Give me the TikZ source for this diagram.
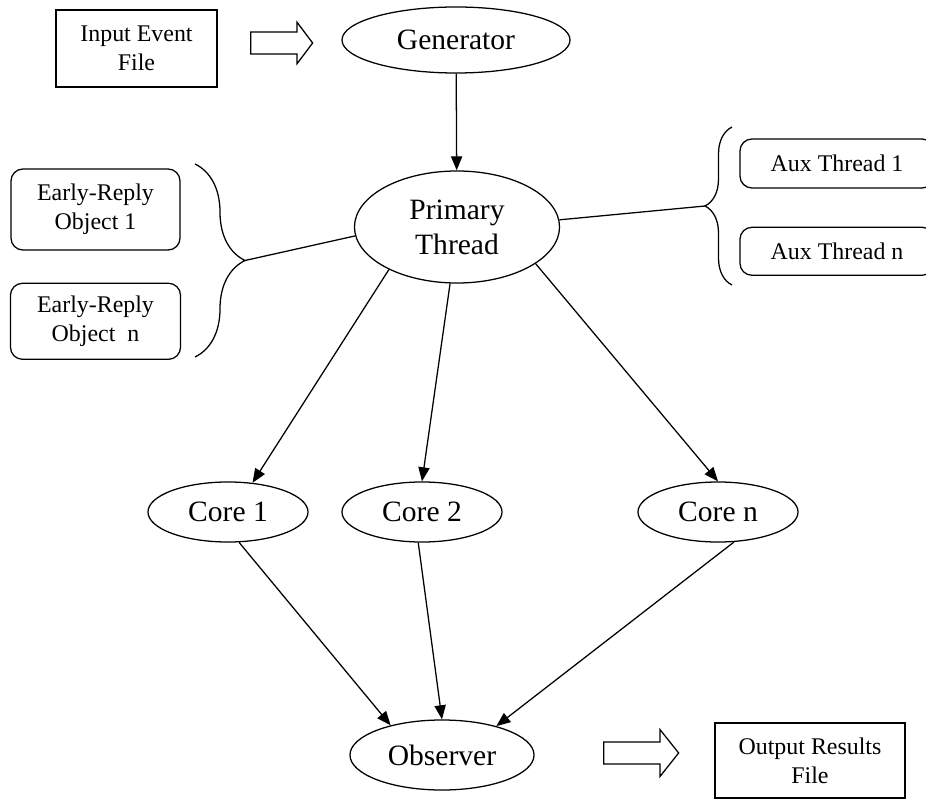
\documentclass[tikz,border=0pt]{standalone}
\usepackage{fontspec}
\setmainfont{Liberation Serif}
\usetikzlibrary{shapes.geometric, shapes.arrows, arrows.meta, positioning, decorations.pathreplacing}
\tikzset{
    filebox/.style={rectangle, draw, line width=0.9pt, align=center, inner sep=0pt, font=\fontsize{17}{20.5}\selectfont},
    objbox/.style={rectangle, draw, rounded corners=0.3cm, line width=0.9pt, align=center, inner sep=0pt, font=\fontsize{17}{20.5}\selectfont},
    proc/.style={ellipse, draw, line width=0.9pt, inner sep=0pt, align=center, font=\fontsize{21}{25}\selectfont},
    bigarrow/.style={single arrow, draw, line width=0.9pt, inner xsep=0pt, inner ysep=0.26cm, single arrow head extend=0.24cm, single arrow tip angle=106, minimum height=1.55cm, anchor=tail},
    arrow/.style={line width=0.9pt, -{Triangle[length=10pt, width=8pt]}},
    link/.style={line width=0.9pt},
    curly/.style={line width=0.9pt, decorate, decoration={brace, amplitude=#1}}
}
\begin{document}
\begin{tikzpicture}[x=0.025cm, y=-0.025cm]
    \useasboundingbox (0,0) rectangle (926,800);

    % Input side
    \node (infile) [filebox, minimum width=4.025cm, minimum height=1.925cm] at (136.5,48.5) {Input Event\\File};
    \node (inarrow) [bigarrow] at (250,43) {};
    \node (gen) [proc, minimum width=5.7cm, minimum height=1.65cm] at (456,40) {Generator};

    % Primary thread
    \node (prim) [proc, minimum width=5.125cm, minimum height=2.8cm] at (457,227) {Primary\\Thread};

    % Early-reply objects
    \node (early1) [objbox, minimum width=4.225cm, minimum height=2.025cm] at (95.5,209.5) {Early-Reply\\Object 1};
    \node (earlyn) [objbox, minimum width=4.25cm, minimum height=1.9cm, below=0.8cm of early1] {Early-Reply\\Object~ n};
    \draw [curly=1.25cm] (195,164) -- (195,357);
    \coordinate (lbrace) at (245,260.5);

    % Aux threads
    \node (aux1) [objbox, minimum width=4.85cm, minimum height=1.225cm] at (837,163.5) {Aux Thread 1};
    \node (auxn) [objbox, minimum width=4.85cm, minimum height=1.2cm, below=0.95cm of aux1] {Aux Thread n};
    \draw [curly=0.675cm] (732,285) -- (732,127);
    \coordinate (rbrace) at (705,206);

    % Cores
    \node (core1) [proc, minimum width=4cm, minimum height=1.5cm] at (228,512) {Core 1};
    \node (core2) [proc, minimum width=4cm, minimum height=1.5cm] at (422,512) {Core 2};
    \node (coren) [proc, minimum width=4cm, minimum height=1.5cm] at (718,512) {Core n};

    % Output side
    \node (obs) [proc, minimum width=4.6cm, minimum height=1.75cm] at (442,755) {Observer};
    \node (outarrow) [bigarrow, minimum height=1.875cm, single arrow head extend=0.31cm, single arrow tip angle=103] at (603,753) {};
    \node (outfile) [filebox, minimum width=4.75cm, minimum height=1.875cm] at (810,760.5) {Output Results\\File};

    % Connectors
    \draw [arrow] (gen) -- (prim);
    \draw [link] (prim.185) -- (lbrace);
    \draw [link] (prim.4) -- (rbrace);
    \draw [arrow] (prim.212) -- (core1.50);
    \draw [arrow] (prim.263) -- (core2.north);
    \draw [arrow] (prim.335) -- (coren.north);
    \draw [arrow] (core1.-70) -- (obs.150);
    \draw [arrow] (core2.-97) -- (obs.north);
    \draw [arrow] (coren.-62) -- (obs.28);
\end{tikzpicture}
\end{document}
